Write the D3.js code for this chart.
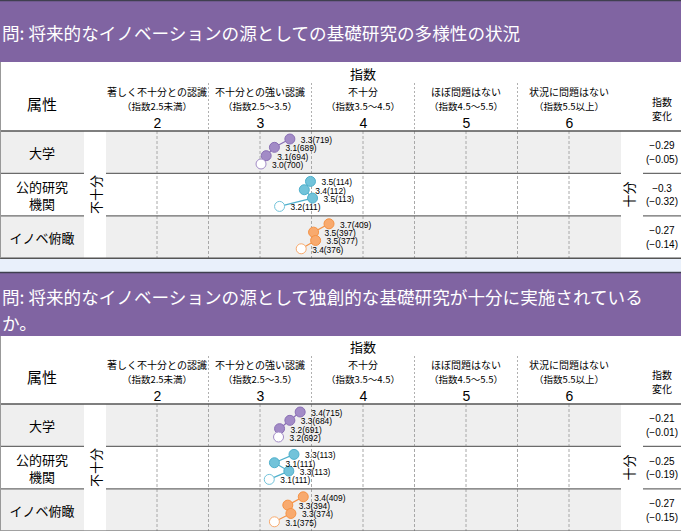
<!DOCTYPE html>
<html><head><meta charset="utf-8">
<script src="https://cdn.jsdelivr.net/npm/d3@7"></script>
<style>
body{margin:0;background:#fff}
svg{display:block}
text{font-family:"Noto Sans CJK JP","Noto Sans",sans-serif;fill:#000}
text.num{font-family:"Liberation Sans",Arial,sans-serif}
</style>
</head><body>
<svg id="chart" width="681" height="531"></svg>
<script>
// ---------- data ----------
const categories = ["大学", "公的研究機関", "イノベ俯瞰"];
const categoryLines = [["大学"], ["公的研究", "機関"], ["イノベ俯瞰"]];
const bandLabels = ["著しく不十分との認識", "不十分との強い認識", "不十分", "ほぼ問題はない", "状況に問題はない"];
const bandSubLabels = ["（指数2.5未満）", "（指数2.5～3.5）", "（指数3.5～4.5）", "（指数4.5～5.5）", "（指数5.5以上）"];
const tickValues = [2, 3, 4, 5, 6];
const bandEdges = [2.5, 3.5, 4.5, 5.5];
const gridValues = [2, 2.5, 3, 3.5, 4, 4.5, 5, 5.5, 6];

const title1 = ["問: 将来的なイノベーションの源としての基礎研究の多様性の状況"];
const title2 = ["問: 将来的なイノベーションの源として独創的な基礎研究が十分に実施されている", "か。"];

// newest survey first, oldest (open circle) last
const q1Values = [[3.29, 3.14, 3.06, 3.01], [3.49, 3.43, 3.51, 3.19], [3.67, 3.52, 3.54, 3.40]];
const q1Counts = [[719, 689, 694, 700], [114, 112, 113, 111], [409, 397, 377, 376]];
const q1Change = [-0.29, -0.3, -0.27];
const q1PrevChange = [-0.05, -0.32, -0.14];

const q2Values = [[3.39, 3.29, 3.19, 3.18], [3.33, 3.14, 3.28, 3.09], [3.42, 3.27, 3.30, 3.14]];
const q2Counts = [[715, 684, 691, 692], [113, 111, 113, 111], [409, 394, 374, 375]];
const q2Change = [-0.21, -0.25, -0.27];
const q2PrevChange = [-0.01, -0.19, -0.15];

const seriesFill = ["#a28bc6", "#72c3da", "#f8aa6e"];
const seriesStroke = ["#8a6fb5", "#4fb0cc", "#f59244"];

// ---------- drawing ----------
const W = 681;
const svg = d3.select("#chart");
const x = d3.scaleLinear().domain([2, 6]).range([157, 569]);
const fmt1 = d3.format(".1f");
const fmtChg = v => d3.format("")(v);

function panel(cfg) {
  const g = svg.append("g");
  const rowH = cfg.rowH;
  const rowsTop = cfg.rowsTop;
  const rowsBot = rowsTop + rowH * 3;

  // title band
  g.append("rect").attr("x", 0).attr("y", cfg.top).attr("width", W).attr("height", cfg.titleBottom - cfg.top)
    .attr("fill", "#8064a2");
  g.append("line").attr("x1", 0).attr("x2", W).attr("y1", cfg.top + 0.5).attr("y2", cfg.top + 0.5)
    .attr("stroke", "#3f3f4f").attr("stroke-width", 1.5);
  cfg.title.forEach((t, i) => {
    g.append("text").attr("x", 2).attr("y", cfg.titleY[i]).attr("dominant-baseline", "central")
      .style("font-size", "17.6px").style("fill", "#fff").text(t);
  });

  // header
  g.append("text").attr("x", x(4)).attr("y", rowsTop - 58).attr("text-anchor", "middle")
    .attr("dominant-baseline", "central").style("font-size", "13px").text("指数");
  bandLabels.forEach((t, i) => {
    g.append("text").attr("x", x(tickValues[i])).attr("y", rowsTop - 40).attr("text-anchor", "middle")
      .attr("dominant-baseline", "central").style("font-size", "10px").text(t);
    g.append("text").attr("x", x(tickValues[i])).attr("y", rowsTop - 25.5).attr("text-anchor", "middle")
      .attr("dominant-baseline", "central").style("font-size", "9.5px").text(bandSubLabels[i]);
  });
  const axis = d3.axisTop(x).tickValues(tickValues).tickSize(0).tickFormat(d3.format("d"));
  const ag = g.append("g").attr("transform", `translate(0,${rowsTop})`).call(axis);
  ag.select(".domain").remove();
  ag.selectAll("text").attr("class", "num").style("font-size", "14px")
    .style("font-family", "\"Liberation Sans Narrow\",\"Liberation Sans\",sans-serif").attr("dy", "0");
  g.selectAll(null).data(bandEdges).enter().append("line")
    .attr("x1", d => x(d)).attr("x2", d => x(d)).attr("y1", rowsTop - 48).attr("y2", rowsTop)
    .attr("stroke", "#b0b0b0").attr("stroke-dasharray", "2,2");
  g.append("text").attr("x", 42).attr("y", rowsTop - 28).attr("text-anchor", "middle")
    .attr("dominant-baseline", "central").style("font-size", "15px").text("属性");
  g.append("text").attr("x", 662).attr("y", rowsTop - 30).attr("text-anchor", "middle")
    .attr("dominant-baseline", "central").style("font-size", "10px").text("指数");
  g.append("text").attr("x", 662).attr("y", rowsTop - 16).attr("text-anchor", "middle")
    .attr("dominant-baseline", "central").style("font-size", "10px").text("変化");

  // row backgrounds
  categories.forEach((c, i) => {
    if (i % 2 === 0) {
      const y0 = rowsTop + i * rowH;
      g.append("rect").attr("x", 0).attr("y", y0).attr("width", 84).attr("height", rowH).attr("fill", "#efefef");
      g.append("rect").attr("x", 106).attr("y", y0).attr("width", 621 - 106).attr("height", rowH).attr("fill", "#efefef");
    }
  });

  // grid
  g.selectAll(null).data(gridValues).enter().append("line")
    .attr("x1", d => x(d)).attr("x2", d => x(d)).attr("y1", rowsTop).attr("y2", rowsBot)
    .attr("stroke", "#a8a8a8").attr("stroke-dasharray", "3,2");

  // row separators
  [1, 2].forEach(k => {
    const yy = rowsTop + k * rowH;
    [[0, 84], [106, 621], [643, W]].forEach(([a, b]) => {
      g.append("line").attr("x1", a).attr("x2", b).attr("y1", yy).attr("y2", yy)
        .attr("stroke", "#6b6b6b").attr("stroke-width", 1.3);
    });
  });
  [rowsTop, rowsBot].forEach(yy => {
    g.append("line").attr("x1", 0).attr("x2", W).attr("y1", yy).attr("y2", yy)
      .attr("stroke", "#555").attr("stroke-width", 1.5);
  });
  g.append("line").attr("x1", 0.5).attr("x2", 0.5).attr("y1", cfg.titleBottom).attr("y2", rowsBot)
    .attr("stroke", "#999");

  // row labels
  categoryLines.forEach((lines, i) => {
    const cy = rowsTop + (i + 0.5) * rowH;
    lines.forEach((t, j) => {
      g.append("text").attr("x", 42).attr("y", cy + (j - (lines.length - 1) / 2) * 17)
        .attr("text-anchor", "middle").attr("dominant-baseline", "central").style("font-size", "13px").text(t);
    });
  });

  // side labels
  const midY = rowsTop + 1.5 * rowH;
  g.append("text").attr("transform", `translate(95,${midY}) rotate(-90)`).attr("text-anchor", "middle")
    .attr("dominant-baseline", "central").style("font-size", "13px").text("不十分");
  g.append("text").attr("transform", `translate(628,${midY}) rotate(-90)`).attr("text-anchor", "middle")
    .attr("dominant-baseline", "central").style("font-size", "13px").text("十分");

  // change values
  categories.forEach((c, i) => {
    const cy = rowsTop + (i + 0.5) * rowH;
    g.append("text").attr("class", "num").attr("x", 662).attr("y", cy - 6.5).attr("text-anchor", "middle")
      .attr("dominant-baseline", "central").style("font-size", "10px").text(fmtChg(cfg.change[i]));
    g.append("text").attr("class", "num").attr("x", 662).attr("y", cy + 7).attr("text-anchor", "middle")
      .attr("dominant-baseline", "central").style("font-size", "10px").text("(" + fmtChg(cfg.prev[i]) + ")");
  });

  // series
  cfg.values.forEach((vals, i) => {
    const y = d3.scalePoint().domain(d3.range(vals.length)).range([rowsTop + i * rowH + 8, rowsTop + i * rowH + 33]);
    const pts = vals.map((v, j) => ({ v, n: cfg.counts[i][j], j }));
    const line = d3.line().x(d => x(d.v)).y(d => y(d.j));
    g.append("path").attr("d", line(pts)).attr("fill", "none")
      .attr("stroke", seriesStroke[i]).attr("stroke-width", 1.2);
    g.selectAll(null).data(pts).enter().append("circle")
      .attr("cx", d => x(d.v)).attr("cy", d => y(d.j)).attr("r", 5)
      .attr("fill", d => d.j === vals.length - 1 ? "#fff" : seriesFill[i])
      .attr("stroke", d => d.j === vals.length - 1 ? seriesFill[i] : seriesStroke[i])
      .attr("stroke-width", 1);
    g.selectAll(null).data(pts).enter().append("text").attr("class", "num")
      .attr("x", d => x(d.v) + 11).attr("y", d => y(d.j) + 1)
      .attr("dominant-baseline", "central").style("font-size", "8.4px")
      .text(d => `${fmt1(d.v)}(${d.n})`);
  });
}

// gap between panels
svg.append("rect").attr("x", 0).attr("y", 259).attr("width", W).attr("height", 13).attr("fill", "#e9f0fb");

panel({ top: 0, titleBottom: 62, titleY: [32], title: title1, rowsTop: 131, rowH: 42.4,
  values: q1Values, counts: q1Counts, change: q1Change, prev: q1PrevChange });
panel({ top: 272, titleBottom: 336, titleY: [296, 322], title: title2, rowsTop: 404, rowH: 42.4,
  values: q2Values, counts: q2Counts, change: q2Change, prev: q2PrevChange });
</script>
</body></html>
